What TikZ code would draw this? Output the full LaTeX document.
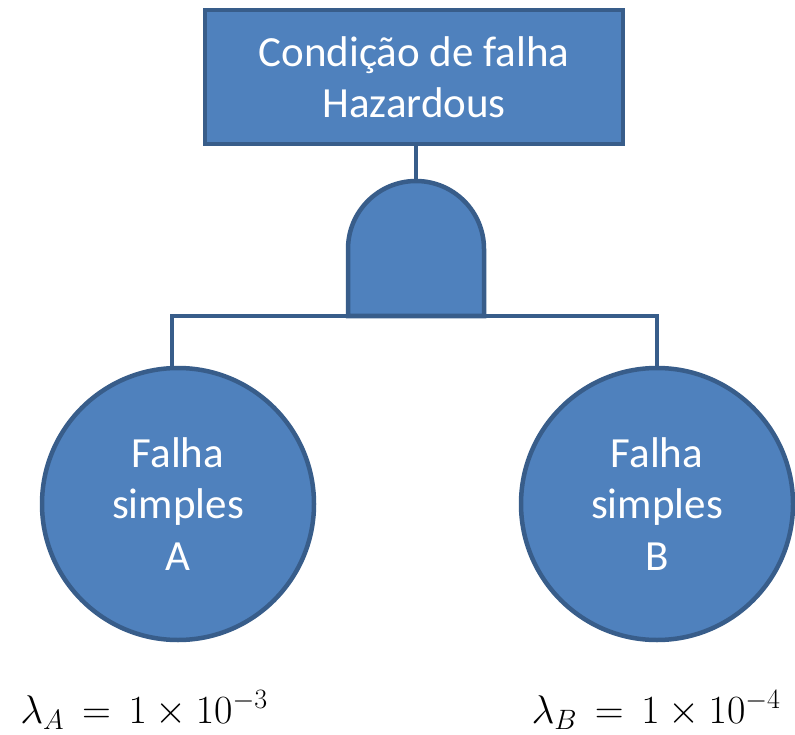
\RequirePackage{fix-cm}
\documentclass[tikz,border=0pt]{standalone}
\usepackage{fontspec}
\setmainfont{Carlito}
\definecolor{fillblue}{HTML}{4F81BD}
\definecolor{edgeblue}{HTML}{385D8A}
\begin{document}
\begin{tikzpicture}[x=1pt,y=-1pt,
  shapebox/.style={draw=edgeblue,fill=fillblue,line width=4.5pt},
  wire/.style={draw=edgeblue,line width=4.5pt},
  whitetext/.style={text=white,font=\fontsize{43}{51.5}\selectfont,align=center},
  mathlabel/.style={font=\fontsize{40}{46}\selectfont,anchor=base}]
\useasboundingbox (0,0) rectangle (795,735);
% top event
\node[shapebox,minimum width=418pt,minimum height=134pt,inner sep=0pt] (top) at (414,77) {};
\node[whitetext] at (top.center) {Condição de falha\\Hazardous};
% AND gate
\coordinate (gin) at (416,180);
\coordinate (gl) at (348,316);
\coordinate (gr) at (484,316);
\draw[shapebox] (gl) -- (348,249) arc[start angle=180,end angle=360,radius=68] -- (gr) -- cycle;
\draw[wire] (top.south -| gin) -- (gin);
% circles
\node[shapebox,circle,minimum size=272pt,inner sep=0pt] (a) at (178,504) {};
\node[shapebox,circle,minimum size=272pt,inner sep=0pt] (b) at (657,504) {};
\node[whitetext] at (a.center) {Falha\\simples\\A};
\node[whitetext] at (b.center) {Falha\\simples\\B};
\coordinate (la) at (172,316);
\coordinate (lb) at (657,316);
\draw[wire,line join=miter] (gl) -- (la) -- (la |- a.north);
\draw[wire,line join=miter] (gr) -- (lb) -- (b.north);
% rates
\node[mathlabel,inner sep=0pt] (ra) at (144,723) {$\lambda_A \,=\, 1 \times 10^{-3}$};
\node[mathlabel,inner sep=0pt] (rb) at (656,723) {$\lambda_B \,=\, 1 \times 10^{-4}$};
\end{tikzpicture}
\end{document}
